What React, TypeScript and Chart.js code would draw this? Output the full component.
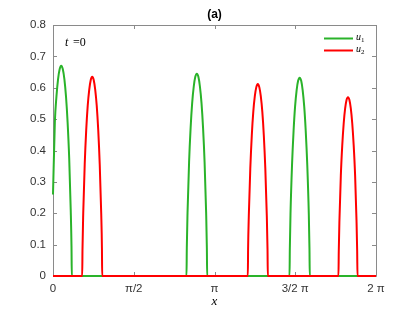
import { useEffect, useRef } from "react";
import { Chart, registerables } from "chart.js";

Chart.register(...registerables);

// u1 (green) sample points
const u1X = [0, 0.036, 0.067, 0.098, 0.129, 0.16, 0.191, 0.222, 0.253, 0.284, 0.315, 0.345, 0.36, 0.366,
  2.597, 2.603, 2.617, 2.647, 2.677, 2.707, 2.738, 2.768, 2.798, 2.828, 2.858, 2.889, 2.919, 2.949, 2.979, 2.993, 2.999,
  4.601, 4.607, 4.62, 4.65, 4.68, 4.709, 4.739, 4.768, 4.798, 4.828, 4.857, 4.887, 4.916, 4.946, 4.976, 4.989, 4.995,
  6.2832];
const u1Y = [0.26, 0.49, 0.572, 0.627, 0.659, 0.67, 0.659, 0.627, 0.572, 0.49, 0.376, 0.21, 0.092, 0,
  0, 0.089, 0.202, 0.362, 0.472, 0.551, 0.604, 0.635, 0.645, 0.635, 0.604, 0.551, 0.472, 0.362, 0.202, 0.089, 0,
  0, 0.087, 0.198, 0.355, 0.463, 0.54, 0.592, 0.622, 0.632, 0.622, 0.592, 0.54, 0.463, 0.355, 0.198, 0.087, 0,
  0];

// u2 (red)
const u2X = [0,
  0.568, 0.574, 0.588, 0.617, 0.646, 0.675, 0.705, 0.734, 0.763, 0.792, 0.821, 0.851, 0.88, 0.909, 0.938, 0.952, 0.957,
  3.79, 3.795, 3.809, 3.838, 3.867, 3.896, 3.926, 3.955, 3.984, 4.013, 4.042, 4.072, 4.101, 4.13, 4.159, 4.173, 4.179,
  5.553, 5.559, 5.572, 5.599, 5.627, 5.655, 5.683, 5.71, 5.738, 5.766, 5.793, 5.821, 5.849, 5.877, 5.904, 5.917, 5.923,
  6.2832];
const u2Y = [0,
  0, 0.088, 0.199, 0.356, 0.465, 0.542, 0.594, 0.625, 0.635, 0.625, 0.594, 0.542, 0.465, 0.356, 0.199, 0.088, 0,
  0, 0.084, 0.192, 0.343, 0.448, 0.523, 0.573, 0.602, 0.612, 0.602, 0.573, 0.523, 0.448, 0.343, 0.192, 0.084, 0,
  0, 0.079, 0.178, 0.32, 0.417, 0.487, 0.534, 0.561, 0.57, 0.561, 0.534, 0.487, 0.417, 0.32, 0.178, 0.079, 0,
  0];

const xTickValues = [0, 1.5708, 3.1416, 4.7124, 6.2832];
const xTickLabels = ["0", "π/2", "π", "3/2 π", "2 π"];
const yTickValues = [0, 0.1, 0.2, 0.3, 0.4, 0.5, 0.6, 0.7, 0.8];
const yTickLabels = ["0", "0.1", "0.2", "0.3", "0.4", "0.5", "0.6", "0.7", "0.8"];

const titleText = "(a)";
const timeLabel = "t";
const timeValue = "=0";
const xAxisLabel = "x";
const seriesNames = ["u", "u"];
const seriesSubs = ["1", "2"];
const seriesColors = ["#2ab32a", "#ff0000"];

const AXIS_COLOR = "#8a8a8a";
const TEXT_COLOR = "#333333";

const decorPlugin = {
  id: "decor",
  beforeDatasetsDraw(chart: any) {
    const { ctx, chartArea } = chart;
    const { left, right, top, bottom } = chartArea;
    const xs = chart.scales.x;
    const ys = chart.scales.y;
    ctx.save();
    ctx.strokeStyle = AXIS_COLOR;
    ctx.lineWidth = 1;
    ctx.beginPath();
    ctx.rect(Math.round(left) + 0.5, Math.round(top) + 0.5, Math.round(right - left), Math.round(bottom - top));
    ctx.stroke();
    const tl = 4;
    ctx.beginPath();
    xTickValues.forEach((v) => {
      const px = Math.round(xs.getPixelForValue(v)) + 0.5;
      ctx.moveTo(px, bottom);
      ctx.lineTo(px, bottom - tl);
      ctx.moveTo(px, top);
      ctx.lineTo(px, top + tl);
    });
    yTickValues.forEach((v) => {
      const py = Math.round(ys.getPixelForValue(v)) + 0.5;
      ctx.moveTo(left, py);
      ctx.lineTo(left + tl, py);
      ctx.moveTo(right, py);
      ctx.lineTo(right - tl, py);
    });
    ctx.stroke();
    ctx.restore();
  },
  afterDraw(chart: any) {
    const { ctx, chartArea } = chart;
    ctx.save();
    ctx.fillStyle = "#000";
    ctx.textBaseline = "middle";
    // title
    ctx.font = "bold 12px 'Liberation Sans', Arial, sans-serif";
    ctx.textAlign = "center";
    ctx.fillText(titleText, (chartArea.left + chartArea.right) / 2, 14.5);
    // x label
    ctx.font = "italic 13px 'Liberation Serif', serif";
    ctx.fillText(xAxisLabel, (chartArea.left + chartArea.right) / 2, 302);
    // t = 0
    ctx.textAlign = "left";
    ctx.font = "italic 12px 'Liberation Serif', serif";
    ctx.fillText(timeLabel, 65, 43);
    ctx.font = "12px 'Liberation Serif', serif";
    ctx.fillText(timeValue, 73, 43);
    // legend
    const ly = [38.5, 50.5];
    seriesNames.forEach((n, i) => {
      ctx.strokeStyle = seriesColors[i];
      ctx.lineWidth = 2;
      ctx.beginPath();
      ctx.moveTo(324, ly[i]);
      ctx.lineTo(353, ly[i]);
      ctx.stroke();
      ctx.fillStyle = "#000";
      ctx.font = "italic 10px 'Liberation Serif', serif";
      ctx.fillText(n, 356, ly[i] - 1);
      ctx.font = "7px 'Liberation Serif', serif";
      ctx.fillText(seriesSubs[i], 361, ly[i] + 2);
    });
    ctx.restore();
  },
};

export default function App() {
  const ref = useRef<HTMLCanvasElement | null>(null);
  useEffect(() => {
    if (!ref.current) return;
    const toPts = (xs: number[], ys: number[]) => xs.map((x, i) => ({ x, y: ys[i] }));
    const chart = new Chart(ref.current, {
      type: "line",
      data: {
        datasets: [
          {
            label: "u1",
            data: toPts(u1X, u1Y),
            borderColor: seriesColors[0],
            borderWidth: 2,
            pointRadius: 0,
            cubicInterpolationMode: "monotone",
            clip: 4,
            order: 2,
          },
          {
            label: "u2",
            data: toPts(u2X, u2Y),
            borderColor: seriesColors[1],
            borderWidth: 2,
            pointRadius: 0,
            cubicInterpolationMode: "monotone",
            clip: 4,
            order: 1,
          },
        ],
      },
      plugins: [decorPlugin],
      options: {
        animation: false,
        responsive: false,
        maintainAspectRatio: false,
        layout: { padding: { top: 25, right: 39, left: 0, bottom: 0 } },
        plugins: {
          legend: { display: false },
          title: { display: false },
          tooltip: { enabled: false },
        },
        scales: {
          x: {
            type: "linear",
            min: 0,
            max: 6.2832,
            grid: { display: false, drawTicks: false },
            border: { display: false },
            afterBuildTicks: (s: any) => {
              s.ticks = xTickValues.map((v) => ({ value: v }));
            },
            afterFit: (s: any) => {
              s.height = 36;
            },
            ticks: {
              autoSkip: false,
              maxRotation: 0,
              padding: 6,
              color: TEXT_COLOR,
              font: { family: "'Liberation Sans', Arial, sans-serif", size: 11.5 },
              callback: (_v: any, i: number) => xTickLabels[i],
            },
          },
          y: {
            min: 0,
            max: 0.8,
            grid: { display: false, drawTicks: false },
            border: { display: false },
            afterBuildTicks: (s: any) => {
              s.ticks = yTickValues.map((v) => ({ value: v }));
            },
            afterFit: (s: any) => {
              s.width = 53;
            },
            ticks: {
              autoSkip: false,
              padding: 7,
              color: TEXT_COLOR,
              font: { family: "'Liberation Sans', Arial, sans-serif", size: 11.5 },
              callback: (_v: any, i: number) => yTickLabels[i],
            },
          },
        },
      },
    } as any);
    return () => chart.destroy();
  }, []);
  return (
    <div style={{ position: "fixed", left: 0, top: 0, width: 415, height: 312, background: "#fff" }}>
      <canvas ref={ref} width={415} height={312} style={{ width: 415, height: 312 }} />
    </div>
  );
}
